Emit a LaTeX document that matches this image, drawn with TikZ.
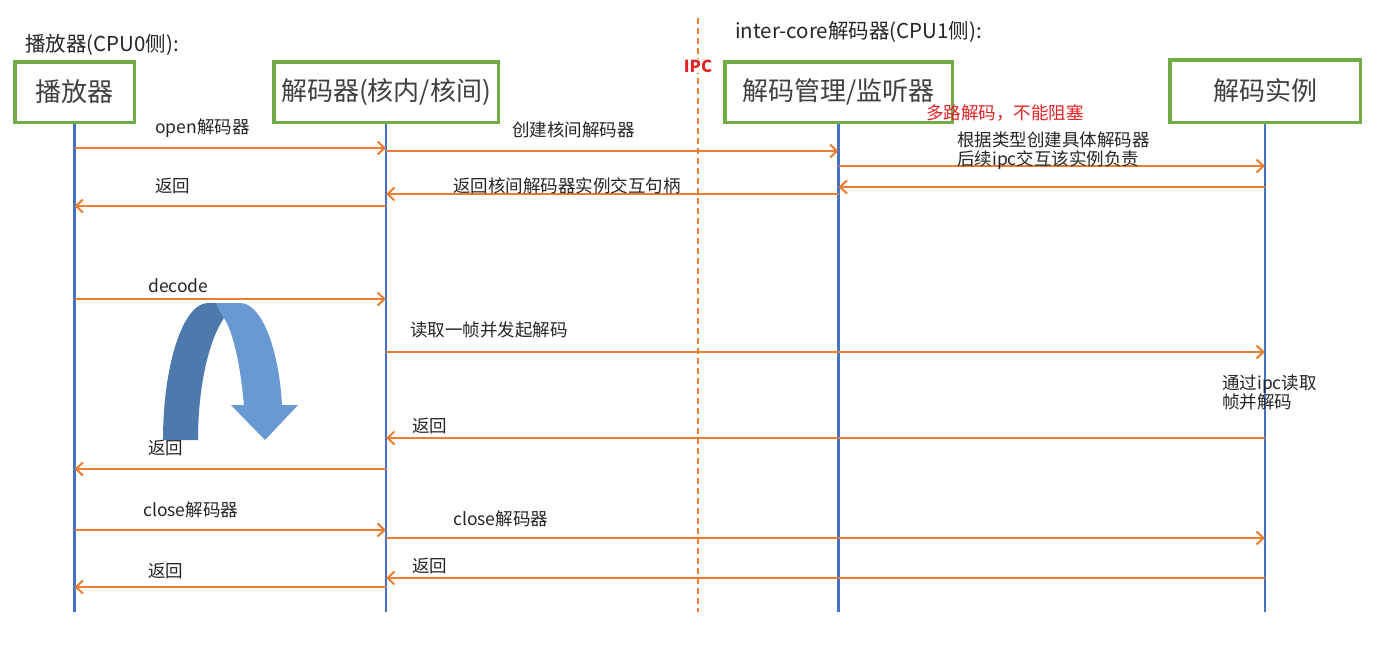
\documentclass[tikz,border=0pt]{standalone}
\usepackage{fontspec}
\setmainfont{Noto Sans CJK SC}
\usetikzlibrary{arrows.meta}
\definecolor{boxgreen}{RGB}{112,173,71}
\definecolor{lifeblue}{RGB}{68,114,196}
\definecolor{msgorange}{RGB}{237,125,49}
\definecolor{txt}{RGB}{38,38,38}
\definecolor{boxtxt}{RGB}{64,64,64}
\definecolor{ipcred}{RGB}{225,35,35}
\definecolor{arcdark}{RGB}{78,121,173}
\definecolor{arclight}{RGB}{104,153,210}
\begin{document}
\begin{tikzpicture}[x=1pt,y=-1pt,
  actor/.style={draw=boxgreen,line width=3.5pt,fill=white,inner sep=0pt,
    font=\fontsize{26}{30}\selectfont,text=boxtxt},
  life/.style={draw=lifeblue,line width=2.5pt},
  msg/.style={draw=msgorange,line width=2pt,
    -{Straight Barb[length=7pt,width=13pt,line width=2pt]}},
  lbl/.style={anchor=west,inner sep=0pt,font=\fontsize{17.5}{19}\selectfont,text=txt,align=left},
  hdr/.style={anchor=west,inner sep=0pt,font=\fontsize{20.5}{23}\selectfont,text=txt},
  ipcline/.style={draw=msgorange,line width=1.5pt,dash pattern=on 6pt off 4pt}]
\useasboundingbox (0,0) rectangle (1394,648);
\fill[white] (0,0) rectangle (1394,648);

% headers
\node[hdr] (h0) at (25,45) {播放器(CPU0侧):};
\node[hdr] (h1) at (735,32) {inter-core解码器(CPU1侧):};

% IPC divider
\coordinate (ipcT) at (698,18);
\coordinate (ipcB) at (698,612);
\draw[ipcline] (ipcT) -- (ipcB);
\node[font=\bfseries\fontsize{16.5}{19}\selectfont,text=ipcred,fill=white,inner sep=1pt] (ipc) at (698,66) {IPC};

% actors
\node[actor,minimum width=119.5pt,minimum height=60.5pt] (b1) at (74.5,92) {播放器};
\node[actor,minimum width=224.5pt,minimum height=60.5pt] (b2) at (386,92) {解码器(核内/核间)};
\node[actor,minimum width=227.5pt,minimum height=60.5pt] (b3) at (838.5,92) {解码管理/监听器};
\node[actor,minimum width=190.5pt,minimum height=62.5pt] (b4) at (1265,91) {解码实例};

% lifelines
\coordinate (e1) at (b1 |- 0,612);
\coordinate (e2) at (b2 |- 0,612);
\coordinate (e3) at (b3 |- 0,612);
\coordinate (e4) at (b4 |- 0,612);
\draw[life] (b1.south) -- (e1);
\draw[life] (b2.south) -- (e2);
\draw[life] (b3.south) -- (e3);
\draw[life] (b4.south) -- (e4);

% red note
\node[lbl,text=ipcred] (note) at (926,113) {多路解码，不能阻塞};

% open
\draw[msg] (b1 |- 0,148) -- (b2 |- 0,148);
\node[lbl] (l1) at (155,128) {open解码器};
\draw[msg] (b2 |- 0,151) -- (b3 |- 0,151);
\node[lbl] (l2) at (512,130) {创建核间解码器};
\draw[msg] (b3 |- 0,166) -- (b4 |- 0,166);
\node[lbl] (l3) at (957,151) {根据类型创建具体解码器\\后续ipc交互该实例负责};
\draw[msg] (b4 |- 0,187) -- (b3 |- 0,187);
\draw[msg] (b3 |- 0,194) -- (b2 |- 0,194);
\node[lbl] (l4) at (453,186) {返回核间解码器实例交互句柄};
\draw[msg] (b2 |- 0,206) -- (b1 |- 0,206);
\node[lbl] (l5) at (155,186) {返回};

% decode
\draw[msg] (b1 |- 0,299) -- (b2 |- 0,299);
\node[lbl] (l6) at (148,286) {decode};
\draw[msg] (b2 |- 0,352) -- (b4 |- 0,352);
\node[lbl] (l7) at (410,330) {读取一帧并发起解码};
\node[lbl] (l8) at (1222,392) {通过ipc读取\\帧并解码};
\draw[msg] (b4 |- 0,438) -- (b2 |- 0,438);
\node[lbl] (l9) at (412,426) {返回};
\draw[msg] (b2 |- 0,469) -- (b1 |- 0,469);
\node[lbl] (l10) at (148,448) {返回};

% close
\draw[msg] (b1 |- 0,530) -- (b2 |- 0,530);
\node[lbl] (l11) at (143,510) {close解码器};
\draw[msg] (b2 |- 0,538) -- (b4 |- 0,538);
\node[lbl] (l12) at (453,519) {close解码器};
\draw[msg] (b4 |- 0,578) -- (b2 |- 0,578);
\node[lbl] (l13) at (412,566) {返回};
\draw[msg] (b2 |- 0,587) -- (b1 |- 0,587);
\node[lbl] (l14) at (148,571) {返回};

% curved (async) arrow
\fill[arcdark] (163,440) .. controls (163,365) and (183,303) .. (208,303)
  -- (216,303) -- (224,318) .. controls (206,345) and (198,395) .. (198,440) -- cycle;
\fill[arclight] (216,303) -- (240,303) .. controls (262,303) and (279,350) .. (282,405)
  -- (298,405) -- (265,440) -- (231,405) -- (244,405)
  .. controls (240,362) and (233,332) .. (224,318) -- cycle;
\end{tikzpicture}
\end{document}
